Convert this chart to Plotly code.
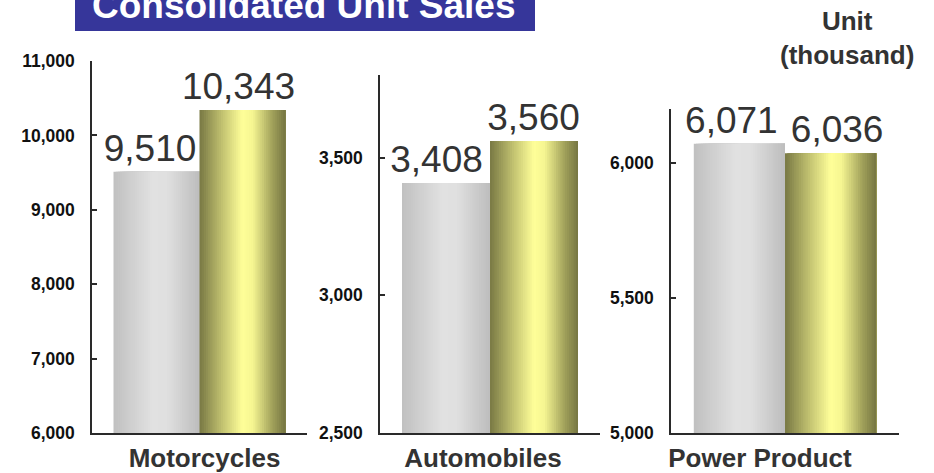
import plotly.graph_objects as go

# ---- data ----
categories = ["Motorcycles", "Automobiles", "Power Product"]
prev_year = [9510, 3408, 6071]
curr_year = [10343, 3560, 6036]
y_ranges = [(6000, 11000), (2500, 3800), (5000, 6200)]
y_dticks = [1000, 500, 500]

# ---- layout geometry (pixels) ----
W, H = 934, 473
x_doms_px = [(92, 307), (380, 600), (671, 899)]
y_tops_px = [61, 75, 109]
y_bottom_px = 433
label_shift = [5, -7, -25]
text_dx_px = [(-6.5, -4), (-9.5, -0.5), (-8, 6.5)]

FONT = "Liberation Sans, Arial, Helvetica, sans-serif"

gray_stops = [(0.0, (192, 192, 192)), (0.45, (225, 225, 225)), (0.62, (224, 224, 224)), (1.0, (189, 189, 189))]
yellow_stops = [(0.0, (120, 120, 68)), (0.25, (190, 190, 110)), (0.5, (255, 255, 153)),
                (0.62, (245, 245, 145)), (0.85, (160, 160, 90)), (1.0, (118, 118, 66))]


def interp(stops, t):
    for (t0, c0), (t1, c1) in zip(stops[:-1], stops[1:]):
        if t0 <= t <= t1:
            f = (t - t0) / (t1 - t0) if t1 > t0 else 0
            c = [round(a + (b - a) * f) for a, b in zip(c0, c1)]
            return f"rgb({c[0]},{c[1]},{c[2]})"
    c = stops[-1][1]
    return f"rgb({c[0]},{c[1]},{c[2]})"


BW = 0.40
N = 40
fig = go.Figure()

for i, cat in enumerate(categories):
    sfx = "" if i == 0 else str(i + 1)
    xa, ya = "x" + sfx, "y" + sfx
    dom_w = x_doms_px[i][1] - x_doms_px[i][0]
    for j, (vals, stops, left) in enumerate(((prev_year, gray_stops, -BW), (curr_year, yellow_stops, 0.0))):
        v = vals[i]
        step = BW / N
        fig.add_trace(go.Bar(
            x=[cat] * N, y=[v] * N,
            offset=[left + k * step for k in range(N)],
            width=[BW - k * step for k in range(N)],
            marker=dict(color=[interp(stops, (k + 0.5) / N) for k in range(N)], line=dict(width=0)),
            xaxis=xa, yaxis=ya, hoverinfo="skip", showlegend=False,
        ))
        fig.add_trace(go.Bar(
            x=[cat], y=[v], offset=left + text_dx_px[i][j] / dom_w, width=BW,
            marker=dict(color="rgba(0,0,0,0)", line=dict(width=0)),
            text=[f"{v:,}"], textposition="outside", constraintext="none", cliponaxis=False,
            textfont=dict(family=FONT, size=37, color="#333333"),
            xaxis=xa, yaxis=ya, hoverinfo="skip", showlegend=False,
        ))

layout = dict(
    width=W, height=H, autosize=False,
    margin=dict(l=0, r=0, t=0, b=0, pad=0),
    paper_bgcolor="white", plot_bgcolor="white",
    barmode="overlay", showlegend=False,
    font=dict(family=FONT),
)

for i in range(3):
    sfx = "" if i == 0 else str(i + 1)
    x0, x1 = x_doms_px[i]
    layout["xaxis" + sfx] = dict(
        domain=[x0 / W, x1 / W], anchor="y" + sfx, type="category", automargin=False,
        range=[-0.5, 0.5], showline=True, linecolor="#2a2a2a", linewidth=1.5,
        ticks="", showgrid=False, fixedrange=True,
        tickfont=dict(family=FONT, size=26, color="#333333", weight="bold"),
        ticklabelshift=label_shift[i], ticklabelstandoff=1,
    )
    lo, hi = y_ranges[i]
    layout["yaxis" + sfx] = dict(
        domain=[1 - y_bottom_px / H, 1 - y_tops_px[i] / H], anchor="x" + sfx, automargin=False,
        range=[lo, hi], tick0=lo, dtick=y_dticks[i], tickformat=",d",
        showline=True, linecolor="#2a2a2a", linewidth=1.5,
        ticks="inside", ticklen=5, tickcolor="#2a2a2a", tickwidth=1.5,
        showgrid=False, zeroline=False, fixedrange=True,
        tickfont=dict(family=FONT, size=17.5, color="#111111", weight="bold"),
        ticklabelstandoff=12,
    )

layout["shapes"] = [dict(type="rect", xref="paper", yref="paper",
                         x0=75 / W, x1=535 / W, y0=1 - 31 / H, y1=1.1,
                         fillcolor="#36369a", line=dict(width=0), layer="below")]

layout["annotations"] = [
    dict(text="Consolidated Unit Sales", xref="paper", yref="paper",
         x=90 / W, y=1 - 28 / H, xanchor="left", yanchor="bottom", showarrow=False,
         font=dict(family=FONT, size=37, color="white", weight="bold")),
    dict(text="Unit<br>(thousand)", xref="paper", yref="paper",
         x=847 / W, y=1 - 4 / H, xanchor="center", yanchor="top", showarrow=False,
         font=dict(family=FONT, size=26, color="#333333", weight="bold")),
]

fig.update_layout(**layout)
fig.write_html("out.html", config={"displayModeBar": False},
               post_script="document.body.style.margin='0px';document.body.style.padding='0px';")
